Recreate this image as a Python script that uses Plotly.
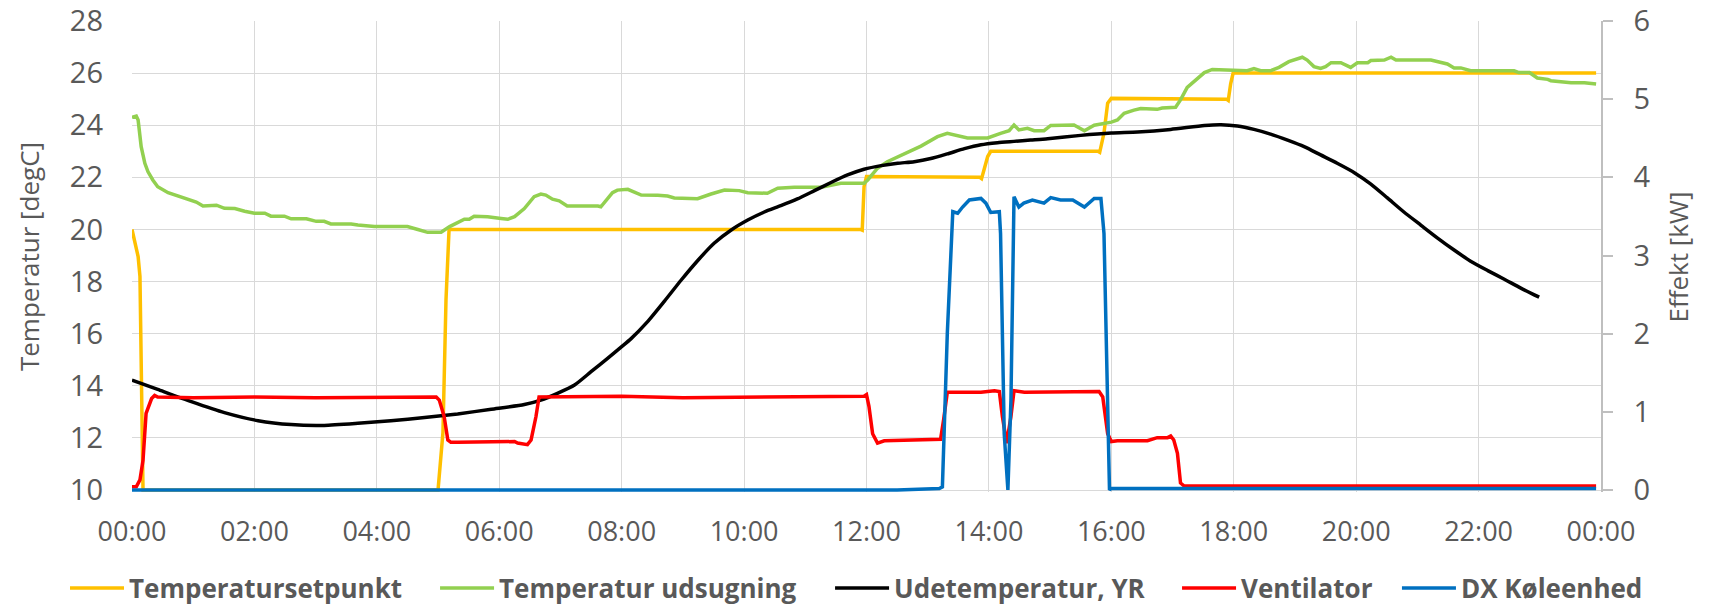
import plotly.graph_objects as go

# ---------------- data (hours of day, values) ----------------
tick_hours = [0, 2, 4, 6, 8, 10, 12, 14, 16, 18, 20, 22, 24]
tick_labels = ["00:00", "02:00", "04:00", "06:00", "08:00", "10:00", "12:00",
               "14:00", "16:00", "18:00", "20:00", "22:00", "00:00"]

# Temperatursetpunkt [degC]
sp_h = [0, 0.1, 0.13, 0.18, 5.0, 5.08, 5.13, 5.18, 11.9, 11.93, 11.96, 12.0,
        13.85, 13.88, 13.98, 14.03, 15.78, 15.81, 15.88, 15.94, 16.0, 17.88,
        17.91, 17.95, 17.99, 23.92]
sp_v = [20, 18.96, 18.2, 10, 10, 12.2, 17.3, 20, 20, 19.97, 21.64, 22.03,
        22, 21.95, 22.8, 23.0, 23, 22.96, 23.7, 24.85, 25.03, 25,
        24.95, 25.6, 26, 26]

# Temperatur udsugning [degC]
gr_h = [0, 0.07, 0.1, 0.15, 0.21, 0.26, 0.34, 0.42, 0.59, 0.75, 0.91, 1.05, 1.16,
        1.38, 1.51, 1.68, 1.84, 2.0, 2.17, 2.27, 2.49, 2.6, 2.85, 3.01, 3.14, 3.25,
        3.58, 3.69, 3.96, 4.5, 4.67, 4.83, 5.05, 5.19, 5.43, 5.51, 5.59, 5.81, 6.03,
        6.14, 6.25, 6.41, 6.57, 6.68, 6.76, 6.87, 6.98, 7.11, 7.61, 7.66, 7.85, 7.93,
        8.1, 8.32, 8.59, 8.75, 8.86, 9.24, 9.46, 9.68, 9.92, 10.06, 10.38, 10.55,
        10.82, 11.26, 11.58, 11.96, 12.02, 12.18, 12.34, 12.62, 12.89, 13.16, 13.32,
        13.65, 13.98, 14.19, 14.33, 14.41, 14.49, 14.63, 14.74, 14.9, 15.01, 15.39,
        15.56, 15.72, 15.88, 16.0, 16.1, 16.21, 16.37, 16.48, 16.75, 16.83, 17.05,
        17.13, 17.24, 17.38, 17.52, 17.65, 17.95, 18.22, 18.33, 18.44, 18.6, 18.74,
        18.9, 19.12, 19.2, 19.31, 19.42, 19.5, 19.59, 19.75, 19.91, 20.02, 20.19,
        20.24, 20.46, 20.57, 20.65, 21.22, 21.49, 21.6, 21.71, 21.87, 22.58, 22.66,
        22.83, 22.96, 23.13, 23.18, 23.51, 23.73, 23.92]
gr_v = [24.30, 24.35, 24.2, 23.18, 22.54, 22.22, 21.9, 21.64, 21.41, 21.28, 21.18,
        21.05, 20.9, 20.93, 20.81, 20.8, 20.7, 20.62, 20.62, 20.51, 20.51, 20.41,
        20.41, 20.31, 20.31, 20.21, 20.21, 20.17, 20.11, 20.11, 20.0, 19.89, 19.89,
        20.11, 20.39, 20.39, 20.51, 20.49, 20.42, 20.39, 20.49, 20.8, 21.26, 21.36,
        21.32, 21.16, 21.1, 20.9, 20.9, 20.87, 21.41, 21.51, 21.54, 21.32, 21.31,
        21.28, 21.21, 21.18, 21.36, 21.51, 21.49, 21.41, 21.39, 21.58, 21.62, 21.62,
        21.77, 21.77, 21.9, 22.35, 22.6, 22.9, 23.2, 23.56, 23.69, 23.51, 23.51,
        23.69, 23.79, 24.01, 23.82, 23.88, 23.79, 23.79, 23.99, 24.01, 23.79, 24.0,
        24.05, 24.12, 24.2, 24.46, 24.58, 24.64, 24.61, 24.66, 24.69, 24.97, 25.45,
        25.74, 26.02, 26.14, 26.12, 26.09, 26.17, 26.09, 26.09, 26.22, 26.44, 26.61,
        26.5, 26.25, 26.18, 26.25, 26.4, 26.4, 26.22, 26.4, 26.4, 26.48, 26.5, 26.61,
        26.5, 26.5, 26.35, 26.2, 26.2, 26.09, 26.09, 26.02, 26.02, 25.81, 25.76,
        25.71, 25.63, 25.63, 25.58]

# Udetemperatur, YR [degC]
bk_h = [0, 0.42, 0.97, 1.51, 2.06, 2.6, 3.14, 3.69, 4.23, 4.78, 5.32, 5.87, 6.41,
        6.68, 6.95, 7.23, 7.5, 7.77, 8.0, 8.15, 8.42, 8.7, 8.97, 9.24, 9.51, 9.79,
        10.06, 10.33, 10.6, 10.87, 11.15, 11.42, 11.69, 11.96, 12.24, 12.51, 12.78,
        13.05, 13.32, 13.6, 13.87, 14.14, 14.41, 14.68, 14.96, 15.5, 16.0, 16.43,
        16.97, 17.52, 17.79, 18.06, 18.33, 18.6, 18.88, 19.15, 19.42, 19.69, 19.97,
        20.24, 20.51, 20.78, 21.06, 21.33, 21.6, 21.87, 22.15, 22.42, 22.69, 22.99]
bk_v = [14.22, 13.86, 13.39, 12.97, 12.66, 12.51, 12.48, 12.56, 12.66, 12.78, 12.92,
        13.1, 13.28, 13.45, 13.71, 14.03, 14.54, 15.05, 15.5, 15.8, 16.45, 17.25,
        18.05, 18.8, 19.47, 19.98, 20.36, 20.67, 20.91, 21.17, 21.49, 21.8, 22.09,
        22.31, 22.45, 22.54, 22.6, 22.72, 22.9, 23.1, 23.25, 23.33, 23.38, 23.43,
        23.48, 23.61, 23.7, 23.74, 23.84, 23.99, 24.02, 23.97, 23.84, 23.66, 23.43,
        23.18, 22.86, 22.54, 22.18, 21.74, 21.21, 20.67, 20.16, 19.67, 19.21, 18.78,
        18.42, 18.09, 17.75, 17.4]

# Ventilator [kW]
rd_h = [0, 0.07, 0.13, 0.18, 0.23, 0.32, 0.37, 0.42, 1.0, 2.0, 3.0, 4.0, 4.97, 5.02,
        5.1, 5.16, 5.21, 5.32, 6.25, 6.3, 6.46, 6.52, 6.6, 6.65, 6.74, 8.0, 9.0, 10.0,
        11.0, 11.96, 12.0, 12.04, 12.1, 12.18, 12.29, 12.78, 13.21, 13.26, 13.32,
        13.6, 13.87, 14.09, 14.17, 14.22, 14.29, 14.36, 14.41, 14.58, 15.5, 15.8,
        15.86, 15.94, 16.0, 16.1, 16.59, 16.75, 16.92, 16.97, 17.02, 17.08, 17.13,
        17.19, 23.92]
rd_v = [0.04, 0.04, 0.13, 0.38, 0.98, 1.17, 1.21, 1.19, 1.18, 1.19, 1.18, 1.19, 1.19,
        1.15, 0.94, 0.64, 0.61, 0.61, 0.62, 0.60, 0.58, 0.64, 0.94, 1.19, 1.19, 1.2,
        1.18, 1.19, 1.19, 1.2, 1.22, 1.07, 0.72, 0.6, 0.63, 0.64, 0.65, 0.9, 1.25,
        1.25, 1.25, 1.27, 1.26, 0.94, 0.6, 0.94, 1.27, 1.25, 1.25, 1.26, 1.19, 0.72,
        0.62, 0.63, 0.63, 0.67, 0.67, 0.69, 0.64, 0.47, 0.09, 0.05, 0.05]

# DX Køleenhed [kW]
bl_h = [0, 12.5, 13.19, 13.24, 13.32, 13.41, 13.49, 13.57, 13.68, 13.87, 13.95,
        14.03, 14.17, 14.19, 14.25, 14.31, 14.36, 14.41, 14.49, 14.57, 14.71, 14.9,
        15.01, 15.17, 15.37, 15.56, 15.72, 15.83, 15.88, 15.94, 15.97, 16.0, 23.92]
bl_v = [0, 0, 0.02, 0.04, 2.0, 3.56, 3.54, 3.62, 3.71, 3.73, 3.67, 3.55, 3.56, 3.28,
        0.72, 0, 1.15, 3.75, 3.62, 3.67, 3.71, 3.67, 3.74, 3.71, 3.71, 3.62, 3.73,
        3.73, 3.28, 1.15, 0, 0.02, 0.02]

# ---------------- figure ----------------
GREY = "#595959"
GRID = "#d9d9d9"
FONT = "Open Sans"
LW = 3.5

fig = go.Figure()
fig.add_trace(go.Scatter(x=sp_h, y=sp_v, name="Temperatursetpunkt", mode="lines",
                         line=dict(color="#FFC000", width=LW), legend="legend"))
fig.add_trace(go.Scatter(x=gr_h, y=gr_v, name="Temperatur udsugning", mode="lines",
                         line=dict(color="#92D050", width=LW), legend="legend2"))
fig.add_trace(go.Scatter(x=bk_h, y=bk_v, name="Udetemperatur, YR", mode="lines",
                         line=dict(color="#000000", width=LW, shape="spline", smoothing=0.6),
                         legend="legend3"))
fig.add_trace(go.Scatter(x=rd_h, y=rd_v, name="Ventilator", mode="lines", yaxis="y2",
                         line=dict(color="#FF0000", width=LW), legend="legend4"))
fig.add_trace(go.Scatter(x=bl_h, y=bl_v, name="DX Køleenhed", mode="lines", yaxis="y2",
                         line=dict(color="#0070C0", width=LW), legend="legend5"))

leg_font = dict(family=FONT, size=26, color=GREY, weight="bold")


def leg(xp):
    return dict(x=xp, y=-0.204, xanchor="left", yanchor="middle", orientation="h",
                font=leg_font, bgcolor="rgba(0,0,0,0)", borderwidth=0, itemwidth=54)


# plot area in page px: x 132..1601, y 21..490 (extended 2px below so bottom lines
# are not clipped). The page's default body margin is removed by a post script.
ext_t = 2 / (469 / 18)
ext_k = 2 / (469 / 6)

fig.update_layout(
    width=1718, height=606,
    margin=dict(l=132, r=117, t=21, b=114, autoexpand=False),
    paper_bgcolor="white", plot_bgcolor="white",
    font=dict(family=FONT, color=GREY, size=28),
    showlegend=True,
    legend=leg(-0.0456), legend2=leg(0.2063), legend3=leg(0.4752),
    legend4=leg(0.7114), legend5=leg(0.8611),
    xaxis=dict(range=[0, 24], tickmode="array", tickvals=tick_hours, ticktext=tick_labels,
               showgrid=True, gridcolor=GRID, gridwidth=1, zeroline=False, showline=False,
               ticks="", tickfont=dict(family=FONT, size=27, color=GREY),
               ticklabelstandoff=21, automargin=False, ticklabeloverflow="allow"),
    yaxis=dict(range=[10 - ext_t, 28], tick0=10, dtick=2, showgrid=True, gridcolor=GRID,
               gridwidth=1, zeroline=False, showline=False, ticks="", automargin=False,
               ticklabeloverflow="allow",
               tickfont=dict(family=FONT, size=29, color=GREY), ticklabelstandoff=28,
               title=dict(text="Temperatur [degC]", font=dict(family=FONT, size=26, color=GREY),
                          standoff=22)),
    yaxis2=dict(range=[0 - ext_k, 6], tick0=0, dtick=1, overlaying="y", side="right",
                showgrid=False, zeroline=False, showline=True, linecolor="#bfbfbf",
                linewidth=1.5, ticks="outside", ticklen=10, tickcolor="#bfbfbf", tickwidth=1.5,
                automargin=False, ticklabeloverflow="allow",
                tickfont=dict(family=FONT, size=29, color=GREY), ticklabelstandoff=15),
    annotations=[dict(text="Effekt [kW]", textangle=-90, xref="paper", yref="paper",
                      x=(1677 - 132) / 1469, y=0.5 - 1 / 471, xanchor="center",
                      yanchor="middle", showarrow=False,
                      font=dict(family=FONT, size=26, color=GREY))],
)

fig.write_html("out.html",
               config={"displayModeBar": False},
               post_script="document.body.style.margin='0';"
                           "document.body.style.overflow='hidden';")
